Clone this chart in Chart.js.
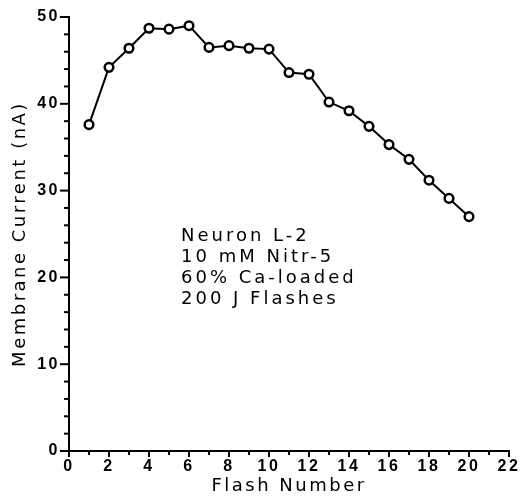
<!DOCTYPE html>
<html>
<head>
<meta charset="utf-8">
<script src="https://cdn.jsdelivr.net/npm/chart.js@4.4.1/dist/chart.umd.min.js"></script>
<style>
  html, body { margin: 0; padding: 0; background: #fff; }
  #wrap { width: 520px; height: 498px; }
</style>
</head>
<body>
<div id="wrap"><canvas id="flashChart"></canvas></div>
<script>
// 데이터
const flashNumbers = [1, 2, 3, 4, 5, 6, 7, 8, 9, 10, 11, 12, 13, 14, 15, 16, 17, 18, 19, 20];
const currents = [37.6, 44.2, 46.4, 48.7, 48.6, 49.0, 46.5, 46.7, 46.4, 46.3,
                  43.6, 43.4, 40.2, 39.2, 37.4, 35.3, 33.6, 31.2, 29.1, 27.0];
const noteLines = ['Neuron L-2', '10 mM Nitr-5', '60% Ca-loaded', '200 J Flashes'];

const TITLE_FONT = '"DejaVu Sans", "Liberation Sans", sans-serif';
const TICK_FONT = '"Liberation Sans", Arial, sans-serif';

// 플로터 글씨처럼 자간을 조금 넓게
const wideText = {
    id: 'wideText',
    beforeLayout(chart) { chart.ctx.letterSpacing = '2.5px'; },
    beforeDraw(chart) { chart.ctx.letterSpacing = '2.5px'; }
};

// 눈금 표시 (바깥쪽으로, 10 단위는 길게)
const tickMarks = {
    id: 'tickMarks',
    afterDraw(chart) {
        const ctx = chart.ctx;
        const xs = chart.scales.x, ys = chart.scales.y;
        ctx.save();
        ctx.strokeStyle = '#000';
        ctx.lineWidth = 2;
        ys.ticks.forEach(t => {
            const py = ys.getPixelForValue(t.value);
            const len = t.value % 10 === 0 ? 9 : 5;
            ctx.beginPath();
            ctx.moveTo(xs.left - len, py);
            ctx.lineTo(xs.left, py);
            ctx.stroke();
        });
        xs.ticks.forEach(t => {
            const px = xs.getPixelForValue(t.value);
            const len = t.value % 2 === 0 ? 6 : 4;
            ctx.beginPath();
            ctx.moveTo(px, ys.bottom);
            ctx.lineTo(px, ys.bottom + len);
            ctx.stroke();
        });
        ctx.restore();
    }
};

// 설명 문구
const noteText = {
    id: 'noteText',
    afterDraw(chart) {
        const ctx = chart.ctx;
        ctx.save();
        ctx.letterSpacing = '3px';
        ctx.fillStyle = '#000';
        ctx.font = '18px ' + TITLE_FONT;
        ctx.textBaseline = 'middle';
        noteLines.forEach((line, i) => {
            ctx.fillText(line, 181, 236 + i * 21);
        });
        ctx.restore();
    }
};

new Chart(document.getElementById('flashChart'), {
    type: 'line',
    data: {
        datasets: [{
            data: flashNumbers.map((x, i) => ({ x: x, y: currents[i] })),
            borderColor: '#000',
            borderWidth: 2,
            pointRadius: 4.3,
            pointBorderWidth: 2.5,
            pointBackgroundColor: '#fff',
            pointBorderColor: '#000',
            tension: 0,
            clip: false
        }]
    },
    options: {
        responsive: true,
        maintainAspectRatio: false,
        animation: false,
        layout: { padding: { top: 17, right: 11, left: 0, bottom: 0 } },
        plugins: {
            legend: { display: false },
            tooltip: { enabled: false }
        },
        scales: {
            x: {
                type: 'linear',
                min: 0,
                max: 22,
                grid: { display: false, drawTicks: false },
                border: { display: true, color: '#000', width: 2 },
                ticks: {
                    stepSize: 1,
                    autoSkip: false,
                    maxRotation: 0,
                    padding: 6,
                    color: '#000',
                    font: { family: TICK_FONT, size: 16, weight: 'bold' },
                    callback: v => (v % 2 === 0 ? v : '')
                },
                title: {
                    display: true,
                    text: 'Flash Number',
                    color: '#000',
                    font: { family: TITLE_FONT, size: 18 },
                    padding: { top: 0, bottom: 1 }
                },
                afterFit: s => {
                    s.height = 47;
                    s.paddingLeft = 0;
                    s.paddingRight = 0;
                }
            },
            y: {
                min: 0,
                max: 50,
                grid: { display: false, drawTicks: false },
                border: { display: true, color: '#000', width: 2 },
                ticks: {
                    stepSize: 2,
                    autoSkip: false,
                    padding: 9,
                    color: '#000',
                    font: { family: TICK_FONT, size: 16, weight: 'bold' },
                    callback: v => (v % 10 === 0 ? v : '')
                },
                title: {
                    display: true,
                    text: 'Membrane Current (nA)',
                    color: '#000',
                    font: { family: TITLE_FONT, size: 18 },
                    padding: { top: 10, bottom: 0 }
                },
                afterFit: s => {
                    s.width = 69;
                    s.paddingTop = 0;
                    s.paddingBottom = 0;
                }
            }
        }
    },
    plugins: [wideText, tickMarks, noteText]
});
</script>
</body>
</html>
